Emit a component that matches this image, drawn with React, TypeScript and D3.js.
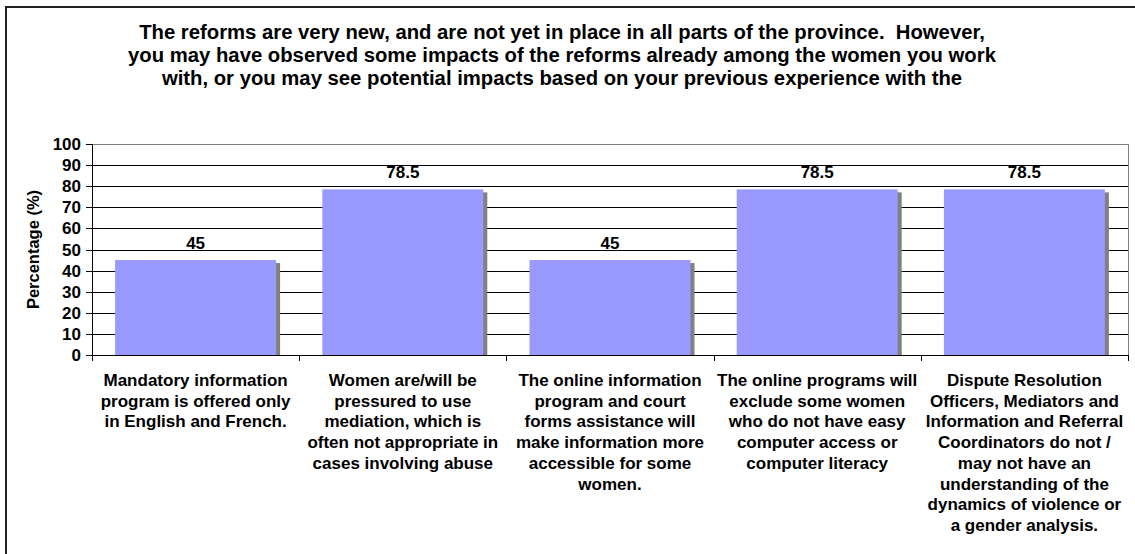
import React from "react";
import * as d3 from "d3";

const titleLines = [
  "The reforms are very new, and are not yet in place in all parts of the province.  However,",
  "you may have observed some impacts of the reforms already among the women you work",
  "with, or you may see potential impacts based on your previous experience with the",
];

const categories = [
  ["Mandatory information", "program is offered only", "in English and French."],
  ["Women are/will be", "pressured to use", "mediation, which is", "often not appropriate in", "cases involving abuse"],
  ["The online information", "program and court", "forms assistance will", "make information more", "accessible for some", "women."],
  ["The online programs will", "exclude some women", "who do not have easy", "computer access or", "computer literacy"],
  ["Dispute Resolution", "Officers, Mediators and", "Information and Referral", "Coordinators do not /", "may not have an", "understanding of the", "dynamics of violence or", "a gender analysis."],
];

const values = [45, 78.5, 45, 78.5, 78.5];
const yTicks = [0, 10, 20, 30, 40, 50, 60, 70, 80, 90, 100];
const yAxisTitle = "Percentage (%)";

const W = 1135;
const H = 554;
const left = 92;
const right = 1128;
const top = 144;
const bottom = 355;
const font = "'Liberation Sans', Arial, sans-serif";

export default function App() {
  const ids = categories.map((_, i) => String(i));
  const x = d3.scaleBand<string>().domain(ids).range([left, right]).paddingInner(0.223).paddingOuter(0.1115);
  const y = d3.scaleLinear().domain([0, 100]).range([bottom, top]);
  const step = x.step();
  const boundaries = d3.range(categories.length + 1).map((i) => left + i * step);

  return (
    <svg width={W} height={H} style={{ position: "absolute", left: 0, top: 0, background: "#fff" }}>
      <rect x={6} y={7} width={W + 10} height={H + 10} fill="#fff" stroke="#222" strokeWidth={2} />
      <g fontFamily={font} fontWeight="bold" textAnchor="middle" fontSize={20.3} fill="#000">
        {titleLines.map((t, i) => (
          <text key={i} x={562} y={38.5 + i * 23} style={{ whiteSpace: "pre" }}>{t}</text>
        ))}
      </g>
      {/* gridlines */}
      {yTicks.filter((t) => t > 0 && t < 100).map((t) => (
        <line key={t} x1={left} x2={right} y1={Math.round(y(t)) + 0.5} y2={Math.round(y(t)) + 0.5} stroke="#000" strokeWidth={1} />
      ))}
      {/* plot border top/right */}
      <line x1={left} x2={right} y1={top + 0.5} y2={top + 0.5} stroke="#808080" />
      <line x1={right + 0.5} x2={right + 0.5} y1={top} y2={bottom + 6} stroke="#808080" />
      {/* bars */}
      {values.map((v, i) => {
        const bx = x(String(i))!;
        const bw = x.bandwidth();
        const by = y(v);
        return (
          <g key={i}>
            <rect x={bx + 4} y={by + 3} width={bw} height={bottom - by - 3} fill="#808080" />
            <rect x={bx} y={by} width={bw} height={bottom - by} fill="#9999FF" />
            <text x={bx + bw / 2} y={by - 11} textAnchor="middle" fontFamily={font} fontWeight="bold" fontSize={17}>{v}</text>
          </g>
        );
      })}
      {/* axes */}
      <line x1={left + 0.5} x2={left + 0.5} y1={top} y2={bottom} stroke="#000" />
      <line x1={left - 6} x2={right} y1={bottom + 0.5} y2={bottom + 0.5} stroke="#000" />
      {yTicks.map((t) => (
        <g key={t}>
          <line x1={left - 6} x2={left} y1={Math.round(y(t)) + 0.5} y2={Math.round(y(t)) + 0.5} stroke="#000" />
          <text x={81} y={y(t) + 6} textAnchor="end" fontFamily={font} fontWeight="bold" fontSize={17}>{t}</text>
        </g>
      ))}
      {boundaries.map((bx, i) => (
        <line key={i} x1={Math.round(bx) + 0.5} x2={Math.round(bx) + 0.5} y1={bottom} y2={bottom + 6} stroke="#000" />
      ))}
      <text transform={`translate(39,${(top + bottom) / 2}) rotate(-90)`} textAnchor="middle" fontFamily={font} fontWeight="bold" fontSize={16.5}>{yAxisTitle}</text>
      {/* category labels */}
      {categories.map((lines, i) => (
        <text key={i} textAnchor="middle" fontFamily={font} fontWeight="bold" fontSize={17}>
          {lines.map((l, j) => (
            <tspan key={j} x={x(String(i))! + x.bandwidth() / 2} y={386 + j * 20.7}>{l}</tspan>
          ))}
        </text>
      ))}
    </svg>
  );
}
